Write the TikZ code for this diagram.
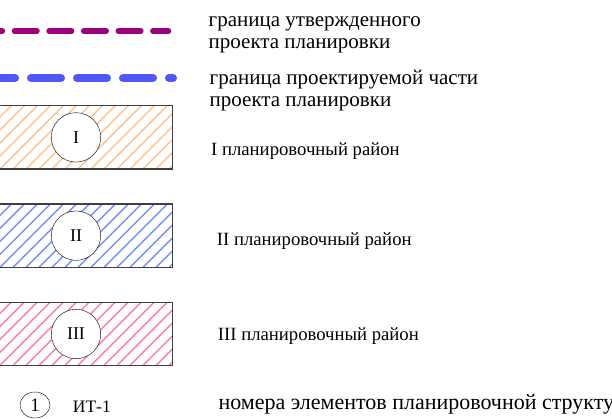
\documentclass[tikz,border=0pt]{standalone}
\usepackage{fontspec}
\setmainfont{Liberation Serif}
\usetikzlibrary{%
  shapes.geometric%
}
\definecolor{approved}{RGB}{158,0,122}
\definecolor{designed}{RGB}{80,88,250}
\definecolor{hatchI}{RGB}{255,188,125}
\definecolor{hatchII}{RGB}{115,145,250}
\definecolor{hatchIII}{RGB}{255,125,160}

\begin{document}
\begin{tikzpicture}[x=1pt,y=-1pt,
    legend text/.style={anchor=base west,inner sep=0pt,align=left,
      font=\fontsize{21}{22}\selectfont},
    region/.style={draw=black!75,line width=1.4pt},
    district/.style={circle,draw,fill=white,minimum size=49.4pt,inner sep=0pt,
      font=\fontsize{18}{18}\selectfont},
    element/.style={ellipse,draw,minimum width=30pt,minimum height=26pt,inner sep=0pt,
      font=\fontsize{19}{19}\selectfont}
  ]
  \useasboundingbox (0,0) rectangle (612,418);
  \clip (0,0) rectangle (612,418);
  % boundary lines
  \draw [approved,line width=5.5pt,line cap=round,dash pattern=on 22.5pt off 12.1pt]
    (-20.1,31) -- (168.5,31);
  \draw [designed,line width=8pt,line cap=round,dash pattern=on 30pt off 16pt]
    (-15,78) -- (173,78);
  \node [legend text] (approvedtext) at (208.5,48.5)
    {граница утвержденного\\проекта планировки};
  \node [legend text] (designedtext) at (209.5,106.5)
    {граница проектируемой части\\проекта планировки};
  % districts
  \foreach \top/\bot/\col/\num in {105.7/169/hatchI/I,204/267.3/hatchII/II,302.7/365.3/hatchIII/III}{
    \begin{scope}
      \clip (-5,\top) rectangle (172.7,\bot);
      \foreach \k in {-7,...,14}
        \draw [\col,line width=1.4pt] (\k*13,\bot) -- ++(70,-70);
    \end{scope}
    \draw [region] (-5,\top) rectangle (172.7,\bot);
    \node [district] (c\num) at (76,{(\top+\bot)/2}) {\num};
  }
  \node [legend text,font=\fontsize{18.7}{20}\selectfont] (textI) at (211,155.7)
    {I планировочный район};
  \node [legend text,font=\fontsize{18.7}{20}\selectfont] (textII) at (216.7,245.7)
    {II планировочный район};
  \node [legend text,font=\fontsize{18.7}{20}\selectfont] (textIII) at (217.7,340.7)
    {III планировочный район};
  % elements
  \node [element] (e1) at (35,405) {1};
  \node [legend text,font=\fontsize{17.5}{18}\selectfont] (e1text) at (72.7,412.7) {ИТ-1};
  \node [legend text,font=\fontsize{22}{24}\selectfont] (elementtext) at (218.3,409)
    {номера элементов планировочной структуры};
\end{tikzpicture}
\end{document}
